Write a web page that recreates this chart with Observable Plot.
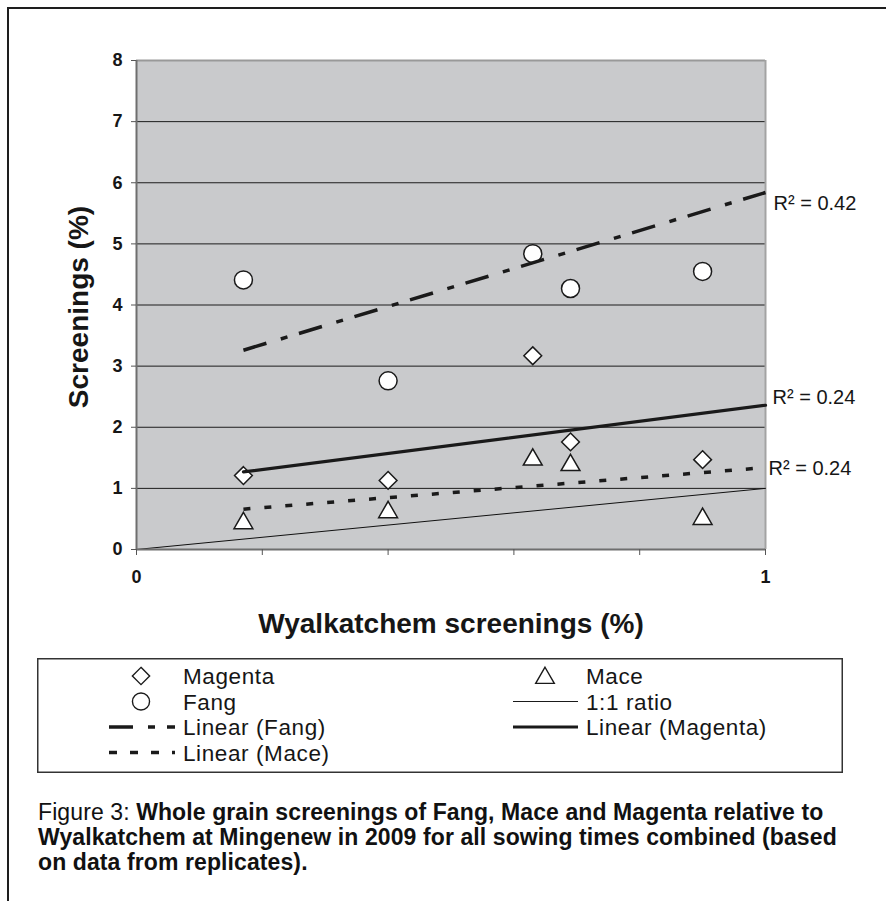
<!DOCTYPE html>
<html><head><meta charset="utf-8">
<script src="https://cdn.jsdelivr.net/npm/d3@7"></script>
<script src="https://cdn.jsdelivr.net/npm/@observablehq/plot@0.6"></script>
<style>
body{margin:0;background:#fff;font-family:"Liberation Sans",Arial,sans-serif;}
#wrap{position:relative;width:886px;height:901px;overflow:hidden;background:#fff;}
#chart{position:absolute;left:0;top:0;}
.bt{position:absolute;left:7px;top:7px;width:879px;height:2px;background:#1e1e1e;}
.bl{position:absolute;left:7px;top:7px;width:2px;height:894px;background:#1e1e1e;}
#legend{position:absolute;left:37px;top:658px;overflow:visible;}
#caption{position:absolute;left:38px;top:800px;font-size:23px;letter-spacing:0.1px;line-height:25px;color:#111;white-space:nowrap;}
#caption b{font-weight:bold;}
</style></head>
<body>
<div id="wrap">
  <div class="bt"></div><div class="bl"></div>
  <div id="chart"></div>
  <svg id="legend" width="806" height="115"></svg>
  <div id="caption">Figure 3: <b>Whole grain screenings of Fang, Mace and Magenta relative to</b><br><b>Wyalkatchem at Mingenew in 2009 for all sowing times combined (based</b><br><b>on data from replicates).</b></div>
</div>
<script>
// ---- data ----
const wyalkatchem = [0.17, 0.40, 0.63, 0.69, 0.90];
const magenta = [1.21, 1.13, 3.17, 1.76, 1.47];
const fang = [4.41, 2.76, 4.84, 4.27, 4.55];
const mace = [0.43, 0.61, 1.47, 1.38, 0.50];

const trendX = [0.17, 1];
const fangTrend = [3.26, 5.84];
const magentaTrend = [1.27, 2.36];
const maceTrend = [0.66, 1.34];

const ratioX = [0, 1];
const ratioY = [0, 1];

const r2Labels = ["R\u00B2 = 0.42", "R\u00B2 = 0.24", "R\u00B2 = 0.24"];

const xTicks = [0, 0.2, 0.4, 0.6, 0.8, 1];
const xTickLabels = ["0", "", "", "", "", "1"];
const yTicks = [0, 1, 2, 3, 4, 5, 6, 7, 8];
const gridTicks = [1, 2, 3, 4, 5, 6, 7];

const yTitle = "Screenings (%)";
const xTitle = "Wyalkatchem screenings (%)";

const legendLeft = ["Magenta", "Fang", "Linear (Fang)", "Linear (Mace)"];
const legendRight = ["Mace", "1:1 ratio", "Linear (Magenta)"];

// ---- tables ----
const pts = (ys) => wyalkatchem.map((x, i) => ({x, y: ys[i]}));
const line = (xs, ys) => xs.map((x, i) => ({x, y: ys[i]}));
const fangPts = pts(fang), magentaPts = pts(magenta), macePts = pts(mace);
const fangLine = line(trendX, fangTrend);
const magentaLine = line(trendX, magentaTrend);
const maceLine = line(trendX, maceTrend);
const ratioLine = line(ratioX, ratioY);
const last = (arr) => [arr[arr.length - 1]];

const FONT = "'Liberation Sans', Arial, sans-serif";
const INK = "#161616";

const chart = Plot.plot({
  width: 886,
  height: 650,
  marginLeft: 136,
  marginRight: 121,
  marginTop: 60,
  marginBottom: 101,
  style: {fontFamily: FONT, background: "transparent", overflow: "visible", color: INK},
  x: {domain: [0, 1]},
  y: {domain: [0, 8]},
  marks: [
    Plot.frame({fill: "#c9cacc", stroke: null}),
    Plot.ruleY(gridTicks, {stroke: "#1c1c1c", strokeWidth: 1}),
    Plot.ruleY([8], {stroke: "#999", strokeWidth: 2}),
    Plot.ruleX([1], {stroke: "#a3a3a3", strokeWidth: 2}),
    Plot.line(ratioLine, {x: "x", y: "y", stroke: "#111", strokeWidth: 1}),
    Plot.dot(macePts, {x: "x", y: "y", symbol: "triangle", r: 7, fill: "white", stroke: "#1a1a1a", strokeWidth: 1.5}),
    Plot.dot(magentaPts, {x: "x", y: "y", symbol: "diamond2", r: 8, fill: "white", stroke: "#1a1a1a", strokeWidth: 1.5}),
    Plot.dot(fangPts, {x: "x", y: "y", symbol: "circle", r: 9, fill: "white", stroke: "#1a1a1a", strokeWidth: 1.5}),
    Plot.line(maceLine, {x: "x", y: "y", stroke: "#1a1a1a", strokeWidth: 3.5, strokeDasharray: "7,14", strokeLinecap: "butt"}),
    Plot.line(magentaLine, {x: "x", y: "y", stroke: "#1a1a1a", strokeWidth: 3.2}),
    Plot.line(fangLine, {x: "x", y: "y", stroke: "#1a1a1a", strokeWidth: 3.5, strokeDasharray: "24,15,7,12", strokeLinecap: "butt"}),
    Plot.ruleX([0], {stroke: "#6e6e6e", strokeWidth: 2}),
    Plot.ruleY([0], {stroke: "#6e6e6e", strokeWidth: 2}),
    Plot.axisY({ticks: yTicks, tickSize: 5, tickPadding: 9, fontSize: 18, fontWeight: "bold", label: null, stroke: "#555", fill: INK}),
    Plot.axisX({ticks: xTicks, tickFormat: (d) => xTickLabels[xTicks.indexOf(d)], tickSize: 6, tickPadding: 15, fontSize: 18, fontWeight: "bold", label: null, stroke: "#555", fill: INK}),
    Plot.text([yTitle], {frameAnchor: "left", rotate: -90, dx: -57, dy: 2, fontSize: 28, fontWeight: "bold", textAnchor: "middle", lineAnchor: "middle", fill: INK}),
    Plot.text([xTitle], {frameAnchor: "bottom", dy: 75, fontSize: 28, fontWeight: "bold", textAnchor: "middle", lineAnchor: "middle", fill: INK}),
    Plot.text(last(fangLine), {x: "x", y: "y", text: () => r2Labels[0], dx: 8, dy: 11, textAnchor: "start", lineAnchor: "middle", fontSize: 20, fill: INK}),
    Plot.text(last(magentaLine), {x: "x", y: "y", text: () => r2Labels[1], dx: 7, dy: -8, textAnchor: "start", lineAnchor: "middle", fontSize: 20, fill: INK}),
    Plot.text(last(maceLine), {x: "x", y: "y", text: () => r2Labels[2], dx: 3, dy: 1, textAnchor: "start", lineAnchor: "middle", fontSize: 20, fill: INK})
  ]
});
document.getElementById("chart").appendChild(chart);

// ---- legend ----
const lg = d3.select("#legend");
lg.append("rect").attr("x", 0.75).attr("y", 0.75).attr("width", 804.5).attr("height", 113.5)
  .attr("fill", "white").attr("stroke", "#333").attr("stroke-width", 1.5);
const rowY = [18, 43.5, 69, 94.5];
const colL = {sym: 104, x0: 72, x1: 138, text: 146};
const colR = {sym: 508, x0: 476, x1: 541, text: 549};
const sym = (type, size, cx, cy) => lg.append("path")
  .attr("d", d3.symbol(type, size)()).attr("transform", `translate(${cx},${cy})`)
  .attr("fill", "white").attr("stroke", "#1a1a1a").attr("stroke-width", 1.4);
const seg = (c, y, w, dash) => lg.append("line").attr("x1", c.x0).attr("x2", c.x1).attr("y1", y).attr("y2", y)
  .attr("stroke", "#1a1a1a").attr("stroke-width", w).attr("stroke-dasharray", dash);
const lab = (c, y, t) => lg.append("text").attr("x", c.text).attr("y", y).attr("dy", "0.36em")
  .attr("font-size", 22.5).attr("letter-spacing", 0.6).attr("font-family", FONT).attr("fill", INK).text(t);

sym(d3.symbolDiamond2, 190, colL.sym, rowY[0]); lab(colL, rowY[0], legendLeft[0]);
sym(d3.symbolCircle, 230, colL.sym, rowY[1]); lab(colL, rowY[1], legendLeft[1]);
seg(colL, rowY[2], 3.5, "24,15,7,12"); lab(colL, rowY[2], legendLeft[2]);
seg(colL, rowY[3], 3.5, "8,13"); lab(colL, rowY[3], legendLeft[3]);
sym(d3.symbolTriangle, 150, colR.sym, rowY[0] + 2); lab(colR, rowY[0], legendRight[0]);
seg(colR, rowY[1], 1, null); lab(colR, rowY[1], legendRight[1]);
seg(colR, rowY[2], 3.2, null); lab(colR, rowY[2], legendRight[2]);
</script>
</body></html>
